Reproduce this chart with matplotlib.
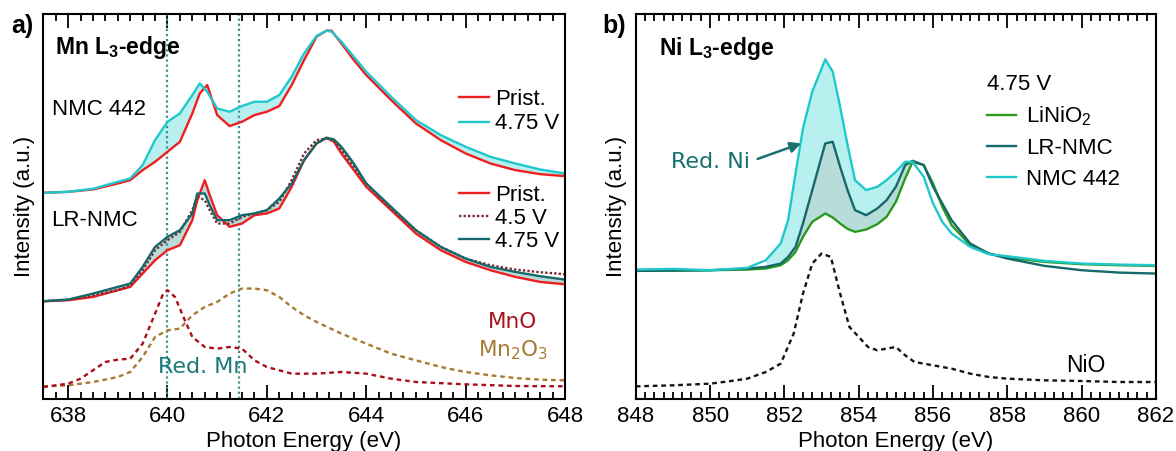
import numpy as np
import matplotlib
matplotlib.use('Agg')
import matplotlib.pyplot as plt
from matplotlib.ticker import MultipleLocator

plt.rcParams['font.family'] = ['Liberation Sans', 'DejaVu Sans']
plt.rcParams['mathtext.fontset'] = 'custom'
plt.rcParams['mathtext.rm'] = 'Liberation Sans'
plt.rcParams['mathtext.bf'] = 'Liberation Sans:bold'
plt.rcParams['mathtext.default'] = 'regular'
plt.rcParams['font.size'] = 16

# ---------- a) Mn L3-edge ----------
e_nmc = [637.5, 638, 638.5, 639, 639.25, 639.5, 639.75, 640, 640.25, 640.5, 640.65, 640.8,
         641.0, 641.25, 641.5, 641.75, 642, 642.25, 642.5, 642.75, 643.0, 643.2, 643.3, 643.5,
         643.75, 644, 644.5, 645, 645.5, 646, 646.5, 647, 647.5, 648]
nmc_prist = [61.7, 62.0, 62.7, 64.5, 65.5, 68.5, 71.0, 74.0, 77.0, 85.5, 91.5, 94.0,
             85.0, 81.7, 83.0, 85.0, 86.0, 87.7, 94.0, 101.5, 108.5, 110.3, 110.3, 106.5,
             101.5, 97.0, 89.5, 82.5, 77.5, 73.5, 70.5, 68.5, 67.3, 66.7]
nmc_475 = [61.7, 62.0, 62.9, 65.0, 66.0, 70.0, 77.5, 83.0, 85.5, 91.0, 94.5, 92.0,
           87.0, 86.0, 87.7, 89.0, 89.0, 91.0, 96.5, 103.5, 108.7, 110.3, 110.0, 107.0,
           102.5, 98.0, 90.5, 83.5, 79.0, 75.5, 72.5, 70.5, 68.7, 67.5]

e_lr = [637.5, 638, 638.5, 639, 639.25, 639.5, 639.75, 640, 640.25, 640.5, 640.6, 640.75,
        640.85, 641.0, 641.25, 641.5, 641.75, 642, 642.25, 642.5, 642.75, 643.0, 643.2, 643.35,
        643.5, 643.75, 644, 644.5, 645, 645.5, 646, 646.5, 647, 647.5, 648]
lr_prist = [29.2, 29.5, 30.5, 32.5, 33.5, 37.5, 41.5, 44.5, 46.0, 53.5, 59.5, 65.5,
            61.0, 55.0, 51.5, 52.5, 55.0, 55.5, 57.0, 63.5, 71.5, 76.5, 78.2, 77.0,
            73.5, 68.5, 63.5, 56.5, 49.5, 44.5, 41.0, 38.5, 36.5, 35.0, 34.3]
lr_45 = [29.2, 29.7, 31.0, 32.5, 34.0, 38.5, 44.5, 47.5, 50.0, 56.5, 60.5, 59.5,
         56.5, 52.5, 52.5, 54.5, 55.5, 56.5, 59.0, 65.5, 73.5, 77.5, 78.0, 77.5,
         74.5, 69.5, 64.5, 57.0, 50.5, 45.5, 42.0, 40.0, 38.7, 37.9, 37.3]
lr_475 = [29.2, 29.7, 31.5, 33.5, 34.5, 39.5, 45.5, 48.5, 50.5, 55.5, 61.5, 61.5,
          58.0, 53.5, 53.5, 55.0, 55.5, 56.5, 60.0, 64.5, 71.5, 76.5, 78.2, 77.7,
          75.5, 70.5, 64.5, 57.5, 50.5, 45.5, 42.0, 39.5, 38.0, 36.7, 35.7]

e_mno = [637.5, 638, 638.25, 638.5, 638.75, 639, 639.25, 639.5, 639.75, 639.9, 640.0, 640.15,
         640.35, 640.5, 640.75, 641, 641.25, 641.5, 641.75, 642, 642.5, 643, 643.5, 644,
         644.5, 645, 646, 647, 648]
mno = [3.5, 4.5, 6.0, 8.5, 11.0, 11.7, 12.0, 16.5, 25.5, 31.0, 32.5, 30.5,
       23.5, 18.5, 15.5, 15.0, 15.5, 15.0, 11.5, 9.5, 7.5, 7.5, 8.0, 7.5,
       6.0, 5.0, 4.3, 3.8, 3.7]

e_mn2o3 = [637.5, 638, 638.5, 639, 639.25, 639.5, 639.75, 640, 640.25, 640.5, 640.75, 641,
           641.25, 641.5, 641.75, 642, 642.25, 642.5, 642.75, 643, 643.5, 644, 644.5, 645,
           645.5, 646, 646.5, 647, 647.5, 648]
mn2o3 = [3.7, 4.0, 5.0, 6.5, 8.0, 12.5, 18.5, 20.5, 21.0, 25.0, 27.5, 29.0,
         31.5, 33.0, 33.0, 32.5, 30.5, 27.5, 25.0, 23.0, 19.5, 16.5, 13.5, 11.5,
         9.5, 8.0, 7.0, 6.2, 5.7, 5.5]

red_mn = [640.0, 641.43]

# ---------- b) Ni L3-edge ----------
e_ni = [848, 849, 850, 851, 851.5, 851.9, 852.1, 852.3, 852.5, 852.75, 853.1, 853.3,
        853.5, 853.7, 853.9, 854.2, 854.5, 854.75, 855.0, 855.25, 855.45, 855.75, 856.0, 856.25,
        856.5, 857, 857.5, 858, 859, 860, 861, 862]
ni_nmc442 = [38.7, 38.9, 38.5, 39.2, 41.5, 46.5, 53.5, 67.5, 81.0, 92.0, 101.7, 98.0,
             87.5, 76.0, 65.5, 62.5, 63.5, 65.5, 68.0, 71.0, 71.0, 66.5, 58.5, 53.0,
             49.5, 45.5, 43.3, 42.7, 41.3, 40.5, 40.2, 40.0]
ni_lrnmc = [38.3, 38.4, 38.5, 39.0, 39.5, 40.5, 42.5, 45.5, 52.5, 62.5, 76.5, 77.0,
            69.5, 62.5, 56.5, 55.0, 57.0, 59.5, 63.5, 70.0, 71.3, 70.0, 63.5, 58.5,
            53.5, 46.5, 43.5, 42.0, 39.8, 38.5, 37.8, 37.5]
ni_linio2 = [38.3, 38.4, 38.5, 38.7, 39.0, 40.0, 41.5, 44.0, 48.5, 53.0, 55.5, 54.3,
             52.5, 50.9, 50.0, 50.7, 52.3, 54.5, 59.0, 66.0, 71.0, 70.0, 64.5, 57.5,
             52.0, 46.0, 43.5, 42.3, 41.0, 40.3, 40.0, 39.8]

e_nio = [848, 849, 850, 850.5, 851, 851.5, 851.9, 852.25, 852.5, 852.75, 853.0, 853.25,
         853.5, 853.75, 854, 854.25, 854.5, 854.75, 855, 855.25, 855.5, 856, 856.5, 857,
         857.5, 858, 859, 860, 861, 862]
nio = [3.7, 4.0, 4.5, 5.2, 6.0, 8.0, 10.5, 19.5, 31.5, 40.5, 43.5, 42.5,
       31.5, 21.5, 18.5, 15.5, 14.5, 15.0, 15.5, 13.0, 11.0, 10.0, 9.0, 7.5,
       6.5, 6.0, 5.5, 5.3, 5.0, 5.0]

RED = '#f01e1e'
CYAN = '#1fc8cc'
TEAL = '#17686a'
GREEN = '#2a9a1e'
FILL_C = '#b8f0f0'
FILL_T = '#b8dcda'
LW = 1.7

fig = plt.figure(figsize=(11.76, 4.51), dpi=100)
ax1 = fig.add_axes([0.0368, 0.116, 0.4436, 0.853])
ax2 = fig.add_axes([0.5406, 0.116, 0.4424, 0.853])

for ax in (ax1, ax2):
    ax.set_ylim(0, 115.3)
    ax.set_yticks([])
    ax.xaxis.set_major_locator(MultipleLocator(2))
    ax.xaxis.set_minor_locator(MultipleLocator(0.25))
    ax.tick_params(axis='x', which='both', direction='in', top=True, width=1.3, pad=5)
    ax.tick_params(axis='x', which='major', length=10)
    ax.tick_params(axis='x', which='minor', length=5)
    for s in ax.spines.values():
        s.set_linewidth(1.5)
    ax.set_xlabel('Photon Energy (eV)', labelpad=3)
    ax.set_ylabel('Intensity (a.u.)', labelpad=6)

# panel a
ax1.set_xlim(637.5, 648)
for x in red_mn:
    ax1.axvline(x, color='#3d9090', lw=1.6, ls=(0, (1, 1.3)))

ax1.plot(e_mn2o3, mn2o3, color='#a87a30', lw=LW, ls=(0, (2, 1.6)))
ax1.plot(e_mno, mno, color='#a8101a', lw=LW, ls=(0, (2, 1.6)))

ax1.fill_between(e_nmc, nmc_prist, nmc_475, color=FILL_C, lw=0)
a1, = ax1.plot(e_nmc, nmc_prist, color=RED, lw=LW, label='Prist.')
a2, = ax1.plot(e_nmc, nmc_475, color=CYAN, lw=LW, label='4.75 V')

ax1.fill_between(e_lr, lr_prist, lr_475, color=FILL_T, lw=0)
b1, = ax1.plot(e_lr, lr_prist, color=RED, lw=LW, label='Prist.')
b2, = ax1.plot(e_lr, lr_45, color='#7a2a30', lw=LW, ls=(0, (1, 0.9)), label='4.5 V')
b3, = ax1.plot(e_lr, lr_475, color=TEAL, lw=LW, label='4.75 V')

leg_kw = dict(frameon=False, handlelength=1.35, handletextpad=0.27, borderpad=0,
              borderaxespad=0)
leg1 = ax1.legend(handles=[a1, a2], loc='upper left', bbox_to_anchor=(0.797, 0.805),
                  labelspacing=0.15, **leg_kw)
ax1.add_artist(leg1)
ax1.legend(handles=[b1, b2, b3], loc='upper left', bbox_to_anchor=(0.797, 0.556),
           labelspacing=0.1, **leg_kw)

ax1.text(0.022, 0.912, r'Mn L$_{\mathbf{3}}$-edge', transform=ax1.transAxes,
         fontweight='bold', fontsize=16.5, va='center', ha='left')
ax1.text(0.016, 0.753, 'NMC 442', transform=ax1.transAxes, va='center', ha='left')
ax1.text(0.016, 0.464, 'LR-NMC', transform=ax1.transAxes, va='center', ha='left')
ax1.text(0.90, 0.200, 'MnO', transform=ax1.transAxes, va='center', ha='center',
         color='#a8101a', family='DejaVu Sans', fontsize=15.5)
ax1.text(0.90, 0.125, 'Mn$_2$O$_3$', transform=ax1.transAxes, va='center', ha='center',
         color='#a87a30', family='DejaVu Sans', fontsize=15.5)
ax1.text(0.305, 0.083, 'Red. Mn', transform=ax1.transAxes, va='center', ha='center',
         color='#1a7a7a', family='DejaVu Sans', fontsize=16)

# panel b
ax2.set_xlim(848, 862)
e_arr = np.array(e_ni)
mask = (e_arr > 851.2) & (e_arr < 855.5)
ax2.fill_between(e_ni, ni_lrnmc, ni_nmc442, where=mask, color=FILL_C, lw=0)
ax2.fill_between(e_ni, ni_linio2, ni_lrnmc, where=mask, color=FILL_T, lw=0)
ax2.plot(e_nio, nio, color='#151515', lw=LW, ls=(0, (2, 1.6)))
c1, = ax2.plot(e_ni, ni_linio2, color=GREEN, lw=LW, label='LiNiO$_2$')
c2, = ax2.plot(e_ni, ni_lrnmc, color=TEAL, lw=LW, label='LR-NMC')
c3, = ax2.plot(e_ni, ni_nmc442, color=CYAN, lw=LW, label='NMC 442')

leg = ax2.legend(handles=[c1, c2, c3], title='4.75 V', loc='upper left',
                 bbox_to_anchor=(0.675, 0.845), frameon=False, handlelength=1.3,
                 handletextpad=0.46, borderpad=0, borderaxespad=0, labelspacing=0.45,
                 title_fontsize=16)
leg._legend_box.align = 'left'

ax2.text(0.045, 0.911, r'Ni L$_{\mathbf{3}}$-edge', transform=ax2.transAxes,
         fontweight='bold', fontsize=16.5, va='center', ha='left')
ax2.text(860.1, 10.0, 'NiO', va='center', ha='center', fontsize=16.5)
ax2.annotate('Red. Ni', xy=(852.45, 76.5), xytext=(850.0, 71.0), va='center', ha='center',
             color='#1a7070', family='DejaVu Sans', fontsize=16,
             arrowprops=dict(arrowstyle='-|>', color='#1a7070', lw=1.8, mutation_scale=16,
                             relpos=(1.0, 0.5), shrinkA=4, shrinkB=0))

fig.text(0.019, 0.943, 'a)', fontweight='bold', fontsize=18, ha='center', va='center')
fig.text(0.522, 0.943, 'b)', fontweight='bold', fontsize=18, ha='center', va='center')

fig.savefig('out.png', dpi=100)
